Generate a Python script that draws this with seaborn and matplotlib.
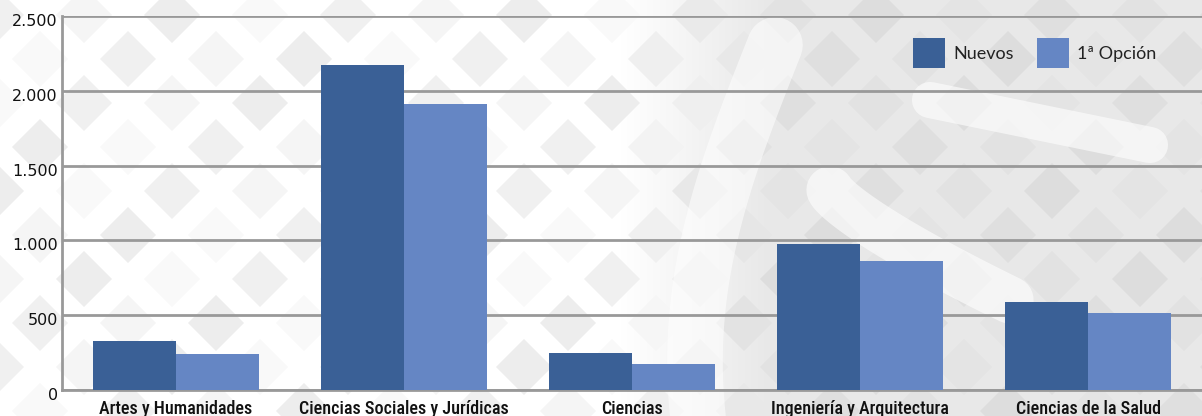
import numpy as np
import pandas as pd
import matplotlib
matplotlib.use("Agg")
import matplotlib.pyplot as plt
import matplotlib.transforms as mtransforms
from matplotlib.patches import Polygon
from matplotlib import font_manager
import seaborn as sns

# datos
ramas = ["Artes y Humanidades", "Ciencias Sociales y Jurídicas", "Ciencias",
         "Ingeniería y Arquitectura", "Ciencias de la Salud"]
nuevos = [327, 2172, 247, 976, 588]
primera_opcion = [241, 1912, 174, 862, 515]
series = ["Nuevos", "1ª Opción"]
yticks = [0, 500, 1000, 1500, 2000, 2500]
ytick_labels = ["0", "500", "1.000", "1.500", "2.000", "2.500"]

df = pd.DataFrame({
    "rama": ramas * 2,
    "serie": [series[0]] * len(ramas) + [series[1]] * len(ramas),
    "valor": nuevos + primera_opcion,
})

sns.set_style("white")

# fuente estrecha para las etiquetas del eje x
disponibles = {f.name for f in font_manager.fontManager.ttflist}
narrow = "DejaVu Sans"
for nombre in ["Liberation Sans Narrow", "DejaVu Sans Condensed", "Roboto Condensed"]:
    if nombre in disponibles:
        narrow = nombre
        break

W, H = 1202, 416
fig = plt.figure(figsize=(W / 100, H / 100), dpi=100)

# fondo decorativo (rombos + zona gris a la derecha)
bg = fig.add_axes([0, 0, 1, 1], zorder=-1)
bg.set_xlim(0, W)
bg.set_ylim(H, 0)
bg.axis("off")
xs = np.arange(W)
ramp = np.clip((xs - 620) / 150, 0, 1)
grad = 1 - 0.09 * ramp
img = np.tile(grad, (H, 1))
bg.imshow(np.dstack([img, img, img]), extent=(0, W, H, 0), aspect="auto", zorder=0)

d = 28
for j in range(-1, 6):
    for i in range(-1, 15):
        for (ox, oy) in [(84, 15), (128, 59)]:
            cx = ox + 88 * i
            cy = oy + 88 * j
            k = (i * 3 + j * 5 + (ox // 128)) % 4
            base = 1 - 0.09 * np.clip((cx - 620) / 150, 0, 1)
            shade = base - [0.04, 0.06, 0.025, 0.07][k] * (0.6 if cx > 640 else 1.0)
            bg.add_patch(Polygon([(cx - d, cy), (cx, cy - d), (cx + d, cy), (cx, cy + d)],
                                 closed=True, color=(shade, shade, shade), lw=0, zorder=1))

# trazos blancos del logotipo
t = np.linspace(0, 1, 100)
bg.plot(775 - 80 * np.sin(t * np.pi * 0.6), 45 + 380 * t, color="white", lw=40,
        alpha=0.55, solid_capstyle="round", zorder=2)
bg.plot(830 + 180 * t, 190 + 110 * t ** 0.8, color="white", lw=34, alpha=0.6,
        solid_capstyle="round", zorder=2)
bg.plot(930 + 220 * t, 100 + 45 * t, color="white", lw=26, alpha=0.6,
        solid_capstyle="round", zorder=2)

# gráfico principal
ax = fig.add_axes([62 / W, 1 - 390 / H, 1 - 62 / W, (390 - 16) / H])
ax.patch.set_alpha(0)
sns.barplot(data=df, x="rama", y="valor", hue="serie", hue_order=series,
            palette=["#3a6096", "#6586c4"], width=0.73, gap=0, saturation=1,
            edgecolor="none", linewidth=0, ax=ax, zorder=3)

ax.set_ylim(0, 2500)
ax.set_xlim(-0.5, len(ramas) - 0.5)
ax.set_yticks(yticks)
ax.set_yticklabels(ytick_labels, fontsize=11.5, color="#111111")
ax.set_xlabel("")
ax.set_ylabel("")
ax.yaxis.grid(True, color="#999999", lw=2)
ax.set_axisbelow(True)
for s in ["top", "right"]:
    ax.spines[s].set_visible(False)
for s in ["left", "bottom"]:
    ax.spines[s].set_color("#999999")
    ax.spines[s].set_linewidth(2)
ax.tick_params(axis="both", length=0)
ax.tick_params(axis="y", pad=3)
ax.tick_params(axis="x", pad=7)
for lab in ax.get_xticklabels():
    lab.set_fontfamily(narrow)
    lab.set_fontsize(13)
    lab.set_fontweight("medium")
    lab.set_color("#111111")
off = mtransforms.ScaledTranslation(0, -4 / 100, fig.dpi_scale_trans)
for lab in ax.get_yticklabels():
    lab.set_transform(lab.get_transform() + off)

leg = ax.legend(loc="upper right", bbox_to_anchor=(0.974, 0.985), ncol=2, frameon=False,
                handlelength=1.75, handleheight=2.2, handletextpad=0.45,
                columnspacing=1.3, prop={"family": "Lato", "size": 13})
for txt in leg.get_texts():
    txt.set_color("#222222")

fig.savefig("out.png", dpi=100)
